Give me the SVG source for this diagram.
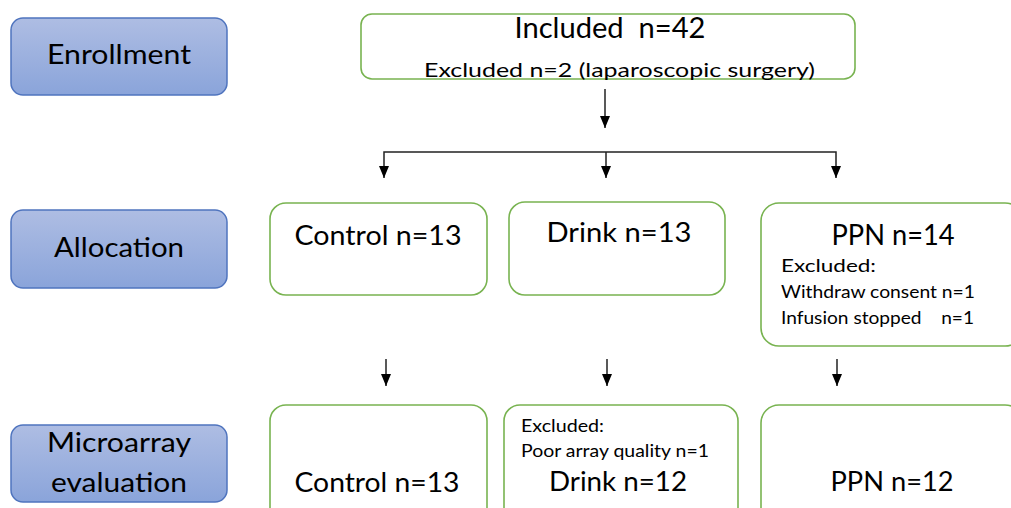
<svg xmlns="http://www.w3.org/2000/svg" width="1011" height="508" viewBox="0 0 1011 508">
<defs>
<linearGradient id="blue" x1="0" y1="0" x2="0" y2="1">
<stop offset="0" stop-color="#aebde3"/>
<stop offset="1" stop-color="#8aa4da"/>
</linearGradient>
<marker id="ah" markerWidth="12" markerHeight="10" refX="12" refY="5" orient="auto-start-reverse" markerUnits="userSpaceOnUse" viewBox="0 0 12 10">
<path d="M0,0 L12,5 L0,10 Z" fill="#000"/>
</marker>
<style>
.stage{fill:url(#blue);stroke:#4f74be;stroke-width:1.5}
.box{fill:#fff;stroke:#78b350;stroke-width:1.6}
.t{font-family:Lato,"Open Sans","Liberation Sans",sans-serif;fill:#000}
.c{text-anchor:middle}
.l{font-size:29px}
.m{font-size:26px}
.s{font-size:17px}
.conn{stroke:#222;stroke-width:1.5;fill:none}
</style>
</defs>
<rect width="1011" height="508" fill="#fff"/>

<g id="enrollment">
<rect class="stage" x="11" y="18" width="216" height="77" rx="12"/>
<text class="t c m" x="119" y="64" textLength="144" lengthAdjust="spacingAndGlyphs">Enrollment</text>
</g>
<g id="allocation">
<rect class="stage" x="11" y="210" width="216" height="78" rx="12"/>
<text class="t c m" x="119" y="257" textLength="130" lengthAdjust="spacingAndGlyphs">Allocation</text>
</g>
<g id="microarray">
<rect class="stage" x="11" y="425" width="216" height="77" rx="12"/>
<text class="t c m" x="119" y="452" textLength="144" lengthAdjust="spacingAndGlyphs">Microarray</text>
<text class="t c m" x="119" y="492" textLength="136" lengthAdjust="spacingAndGlyphs">evaluation</text>
</g>

<g id="included">
<rect class="box" x="361" y="14" width="494" height="65" rx="11"/>
<text class="t c l" x="610" y="38" textLength="191" lengthAdjust="spacingAndGlyphs" xml:space="preserve">Included  n=42</text>
<text class="t" x="424" y="77" font-size="20" textLength="391" lengthAdjust="spacingAndGlyphs">Excluded n=2 (laparoscopic surgery)</text>
</g>

<g id="control-alloc">
<rect class="box" x="270" y="203" width="217" height="92" rx="16"/>
<text class="t c m" x="378" y="245" textLength="167" lengthAdjust="spacingAndGlyphs">Control n=13</text>
</g>
<g id="drink-alloc">
<rect class="box" x="509" y="202" width="216" height="93" rx="16"/>
<text class="t c m" x="619" y="242" textLength="145" lengthAdjust="spacingAndGlyphs">Drink n=13</text>
</g>
<g id="ppn-alloc">
<rect class="box" x="761" y="203" width="262" height="143" rx="18"/>
<text class="t c l" x="893" y="245" textLength="123" lengthAdjust="spacingAndGlyphs">PPN n=14</text>
<text class="t s" x="781" y="272" textLength="95" lengthAdjust="spacingAndGlyphs">Excluded:</text>
<text class="t s" x="781" y="298" textLength="194" lengthAdjust="spacingAndGlyphs">Withdraw consent n=1</text>
<text class="t s" x="781" y="324" textLength="193" lengthAdjust="spacingAndGlyphs" xml:space="preserve">Infusion stopped    n=1</text>
</g>

<g id="control-micro">
<rect class="box" x="270" y="405" width="217" height="120" rx="16"/>
<text class="t c m" x="377" y="492" textLength="165" lengthAdjust="spacingAndGlyphs">Control n=13</text>
</g>
<g id="drink-micro">
<rect class="box" x="504" y="405" width="234" height="120" rx="16"/>
<text class="t s" x="521" y="432" textLength="83" lengthAdjust="spacingAndGlyphs">Excluded:</text>
<text class="t s" x="521" y="457" textLength="188" lengthAdjust="spacingAndGlyphs">Poor array quality n=1</text>
<text class="t c m" x="618" y="491" textLength="138" lengthAdjust="spacingAndGlyphs">Drink n=12</text>
</g>
<g id="ppn-micro">
<rect class="box" x="761" y="405" width="262" height="120" rx="18"/>
<text class="t c m" x="892" y="491" textLength="123" lengthAdjust="spacingAndGlyphs">PPN n=12</text>
</g>

<g id="connectors">
<line class="conn" x1="605" y1="89" x2="605" y2="128" marker-end="url(#ah)"/>
<path class="conn" d="M384,178 L384,152 L836,152 L836,178" marker-start="url(#ah)" marker-end="url(#ah)"/>
<line class="conn" x1="606" y1="152" x2="606" y2="178" marker-end="url(#ah)"/>
<line class="conn" x1="386" y1="359" x2="386" y2="386" marker-end="url(#ah)"/>
<line class="conn" x1="607" y1="359" x2="607" y2="386" marker-end="url(#ah)"/>
<line class="conn" x1="837" y1="359" x2="837" y2="386" marker-end="url(#ah)"/>
</g>
</svg>
